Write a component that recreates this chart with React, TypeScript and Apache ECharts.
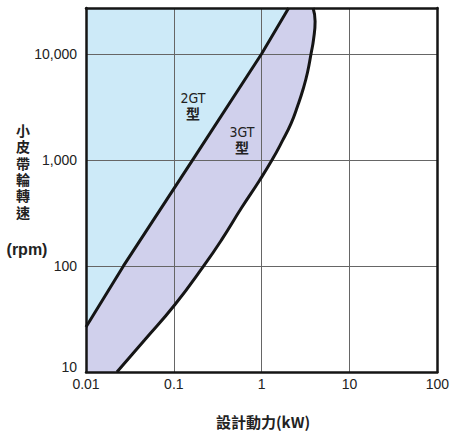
import React, { useEffect, useRef } from "react";
import * as echarts from "echarts";

// Axis ranges / ticks
const xMin = 0.01;
const xMax = 100;
const yMin = 10;
const yMax = 27000;

// 2GT boundary (design power kW, rpm)
const gt2Power = [0.01, 0.0267, 0.164, 1.0, 2.03];
const gt2Rpm = [26.6, 100, 1000, 10000, 27000];

// 3GT boundary (design power kW, rpm)
const gt3Power = [0.0225, 0.0465, 0.1026, 0.219, 0.351, 0.593, 0.937, 1.316, 1.733, 2.164, 2.56, 2.962, 3.33, 3.65, 3.9, 4.06, 3.85];
const gt3Rpm = [10, 20, 43, 100, 177, 355, 632, 1000, 1524, 2208, 3200, 4624, 6700, 10000, 13700, 20300, 27000];

// Y-axis title characters
const yTitleChars = ["小", "皮", "帶", "輪", "轉", "速"];

const blueFill = "#cdeaf8";
const purpleFill = "#d0d0ec";
const lineColor = "#151515";
const gridColor = "#666666";
const labelFont = '"Liberation Sans", Arial, sans-serif';
const narrowFont = '"Liberation Sans Narrow", "DejaVu Sans Condensed", sans-serif';
const cjkFont = '"Noto Sans CJK TC", "Noto Sans CJK JP", sans-serif';
const stackFont = '"Liberation Sans", "Noto Sans CJK TC", "Noto Sans CJK JP", sans-serif';

const isPow10 = (v: number) => {
  const l = Math.log10(v);
  return Math.abs(l - Math.round(l)) < 1e-6;
};

export default function App() {
  const ref = useRef<HTMLDivElement>(null);

  useEffect(() => {
    if (!ref.current) return;
    const chart = echarts.init(ref.current, undefined, { renderer: "svg" });

    const gt2Data = gt2Power.map((x, i) => [x, gt2Rpm[i]]);
    const gt3Data = gt3Power.map((x, i) => [x, gt3Rpm[i]]);

    const frameLine = { show: true, lineStyle: { color: lineColor, width: 2.5 } };

    const titleTexts = yTitleChars.map((ch, i) => ({
      type: "text",
      x: 23,
      y: 131 + i * 16.3,
      z: 10,
      style: {
        text: ch,
        font: "bold 14px " + stackFont,
        lineHeight: 15,
        fill: "#222",
        textAlign: "center",
        textVerticalAlign: "middle",
      },
    }));

    const option: any = {
      animation: false,
      backgroundColor: "#ffffff",
      grid: { left: 86, right: 14, top: 8, bottom: 60, containLabel: false },
      xAxis: [
        {
          type: "log",
          logBase: 10,
          min: xMin,
          max: xMax,
          position: "bottom",
          z: 2,
          axisLine: frameLine,
          axisTick: { show: false },
          minorTick: { show: false },
          axisLabel: {
            margin: 5,
            fontSize: 14,
            color: "#222",
            fontFamily: labelFont,
            formatter: (v: number) => (isPow10(v) ? String(parseFloat(v.toPrecision(6))) : ""),
          },
          splitLine: { show: true, lineStyle: { color: gridColor, width: 1 } },
        },
        {
          type: "log",
          logBase: 10,
          min: xMin,
          max: xMax,
          position: "top",
          z: 2,
          axisLine: frameLine,
          axisTick: { show: false },
          axisLabel: { show: false },
          splitLine: { show: false },
        },
      ],
      yAxis: [
        {
          type: "log",
          logBase: 10,
          min: yMin,
          max: yMax,
          position: "left",
          z: 2,
          axisLine: frameLine,
          axisTick: { show: false },
          minorTick: { show: false },
          axisLabel: {
            margin: 9,
            fontSize: 14,
            color: "#222",
            fontFamily: labelFont,
            formatter: (v: number) => {
              if (!isPow10(v)) return "";
              const r = Math.round(v);
              const s = r.toLocaleString("en-US");
              return r === yMin ? "{low|" + s + "}" : s;
            },
            rich: {
              low: {
                fontSize: 14,
                color: "#222",
                fontFamily: labelFont,
                padding: [0, 0, 11, 0],
              },
            },
          },
          splitLine: { show: true, lineStyle: { color: gridColor, width: 1 } },
        },
        {
          type: "log",
          logBase: 10,
          min: yMin,
          max: yMax,
          position: "right",
          z: 2,
          axisLine: frameLine,
          axisTick: { show: false },
          axisLabel: { show: false },
          splitLine: { show: false },
        },
      ],
      series: [
        {
          type: "custom",
          name: "regions",
          z: 1,
          coordinateSystem: "cartesian2d",
          xAxisIndex: 0,
          yAxisIndex: 0,
          data: [[1, 100]],
          encode: { x: 0, y: 1 },
          silent: true,
          renderItem: (params: any, api: any) => {
            const pt = (x: number, y: number) => api.coord([x, y]);
            const g2 = gt2Data.map((d) => pt(d[0], d[1]));
            const g3 = gt3Data.map((d) => pt(d[0], d[1]));
            const blue = [...g2, pt(xMin, yMax)];
            const purple = [pt(xMin, yMin), ...g2, ...g3.slice().reverse()];
            return {
              type: "group",
              children: [
                { type: "polygon", shape: { points: blue }, style: { fill: blueFill } },
                { type: "polygon", shape: { points: purple }, style: { fill: purpleFill } },
              ],
            };
          },
        },
        {
          type: "line",
          name: "2GT",
          z: 3,
          data: gt2Data,
          showSymbol: false,
          symbol: "none",
          lineStyle: { color: lineColor, width: 3 },
        },
        {
          type: "line",
          name: "3GT",
          z: 3,
          data: gt3Data,
          showSymbol: false,
          symbol: "none",
          smooth: 0.5,
          lineStyle: { color: lineColor, width: 3 },
        },
      ],
      graphic: [
        {
          type: "text",
          x: 193,
          y: 98,
          z: 10,
          style: {
            text: "2GT",
            font: "14px " + narrowFont,
            fill: "#222",
            textAlign: "center",
            textVerticalAlign: "middle",
          },
        },
        {
          type: "text",
          x: 193,
          y: 114,
          z: 10,
          style: {
            text: "型",
            font: "bold 14px " + stackFont,
            lineHeight: 15,
            fill: "#222",
            textAlign: "center",
            textVerticalAlign: "middle",
          },
        },
        {
          type: "text",
          x: 242,
          y: 132,
          z: 10,
          style: {
            text: "3GT",
            font: "14px " + narrowFont,
            fill: "#222",
            textAlign: "center",
            textVerticalAlign: "middle",
          },
        },
        {
          type: "text",
          x: 242,
          y: 148,
          z: 10,
          style: {
            text: "型",
            font: "bold 14px " + stackFont,
            lineHeight: 15,
            fill: "#222",
            textAlign: "center",
            textVerticalAlign: "middle",
          },
        },
        ...titleTexts,
        {
          type: "text",
          x: 27,
          y: 249,
          z: 10,
          style: {
            text: "(rpm)",
            font: "bold 16px " + labelFont,
            fill: "#222",
            textAlign: "center",
            textVerticalAlign: "middle",
          },
        },
        {
          type: "text",
          x: 263,
          y: 421,
          z: 10,
          style: {
            text: "設計動力(kW)",
            font: "bold 15px " + cjkFont,
            fill: "#222",
            textAlign: "center",
            textVerticalAlign: "middle",
          },
        },
      ],
    };

    chart.setOption(option);
    return () => {
      chart.dispose();
    };
  }, []);

  return (
    <div
      ref={ref}
      style={{ position: "fixed", left: 0, top: 0, width: 452, height: 432, background: "#fff" }}
    />
  );
}
